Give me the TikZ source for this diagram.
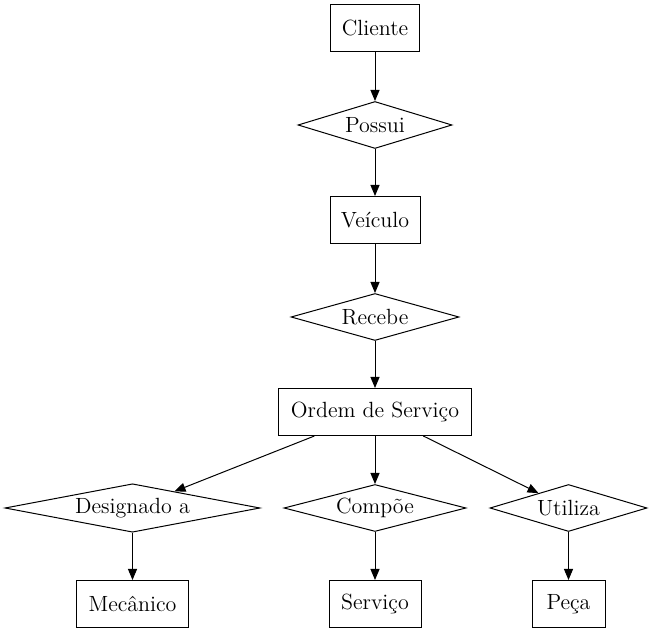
\documentclass[tikz,border=0pt]{standalone}
\usetikzlibrary{shapes.geometric,arrows.meta}

\begin{document}
\begin{tikzpicture}[
    x=0.5pt, y=-0.5pt,
    entity/.style={rectangle, draw, line width=0.5pt, minimum height=23.5pt, inner sep=0pt, font=\fontsize{11}{13}\selectfont},
    relation/.style={diamond, draw, line width=0.5pt, shape aspect=4, minimum height=23.5pt, inner sep=0pt, font=\fontsize{11}{13}\selectfont},
    arrow/.style={-{Triangle[length=5.5pt,width=4.5pt]}, line width=0.5pt}
]
\useasboundingbox (0,0) rectangle (653,635);

% Main chain
\node[entity, minimum width=44.5pt] (cliente) at (375,28) {Cliente};
\node[relation, minimum width=77pt] (possui) at (375,125) {Possui};
\node[entity, minimum width=45pt] (veiculo) at (375,220) {Veículo};
\node[relation, minimum width=84pt] (recebe) at (375,317) {Recebe};
\node[entity, minimum width=96.5pt] (ordem) at (375,412) {Ordem de Serviço};

% Relations below the order
\node[relation, minimum width=127.5pt] (designado) at (132.5,508) {Designado a};
\node[relation, minimum width=91pt] (compoe) at (375,508) {Compõe};
\node[relation, minimum width=78.5pt] (utiliza) at (568.5,508) {Utiliza};

% Bottom entities
\node[entity, minimum width=56pt] (mecanico) at (132.5,604) {Mecânico};
\node[entity, minimum width=46pt] (servico) at (375,604) {Serviço};
\node[entity, minimum width=36.5pt] (peca) at (568.5,604) {Peça};

% Arrows
\foreach \a/\b in {cliente/possui, possui/veiculo, veiculo/recebe, recebe/ordem,
    ordem/designado, ordem/compoe, ordem/utiliza,
    designado/mecanico, compoe/servico, utiliza/peca} {
    \draw[arrow] (\a) -- (\b);
}

\end{tikzpicture}
\end{document}
